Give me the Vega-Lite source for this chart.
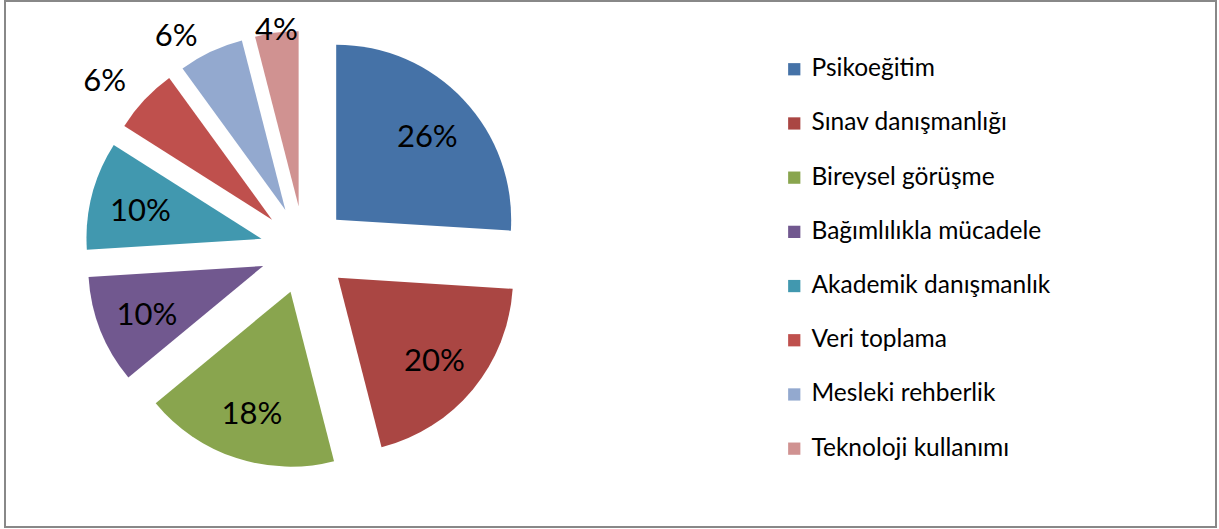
{
  "$schema": "https://vega.github.io/schema/vega-lite/v6.json",
  "autosize": {"type": "fit", "contains": "padding"},
  "width": 1219,
  "height": 529,
  "padding": {"left": 5, "top": 1, "right": 3, "bottom": 2},
  "background": "white",
  "config": {"view": {"stroke": "#888888", "strokeWidth": 2}, "font": "Lato"},
  "data": {"values": [
    {"i": 1, "k": "Psikoeğitim", "v": 0.26},
    {"i": 2, "k": "Sınav danışmanlığı", "v": 0.20},
    {"i": 3, "k": "Bireysel görüşme", "v": 0.18},
    {"i": 4, "k": "Bağımlılıkla mücadele", "v": 0.10},
    {"i": 5, "k": "Akademik danışmanlık", "v": 0.10},
    {"i": 6, "k": "Veri toplama", "v": 0.06},
    {"i": 7, "k": "Mesleki rehberlik", "v": 0.06},
    {"i": 8, "k": "Teknoloji kullanımı", "v": 0.04}
  ]},
  "encoding": {
    "theta": {"field": "v", "type": "quantitative", "stack": true},
    "order": {"field": "i", "type": "quantitative"},
    "x": {"value": {"expr": "width*0.247 + 44*sin(scale('theta',(datum.v_start+datum.v_end)/2))"}},
    "y": {"value": {"expr": "height*0.473 - 44*cos(scale('theta',(datum.v_start+datum.v_end)/2))"}}
  },
  "layer": [
    {
      "mark": {"type": "arc", "radius": 175},
      "encoding": {
        "color": {
          "field": "k", "type": "nominal", "sort": null,
          "scale": {
            "domain": ["Psikoeğitim", "Sınav danışmanlığı", "Bireysel görüşme", "Bağımlılıkla mücadele", "Akademik danışmanlık", "Veri toplama", "Mesleki rehberlik", "Teknoloji kullanımı"],
            "range": ["#4572A7", "#AA4643", "#89A54E", "#71588F", "#4198AF", "#BF504D", "#93A9CF", "#D09291"]
          },
          "legend": {
            "orient": "none", "legendX": 777, "legendY": 56, "title": null,
            "symbolType": "square", "symbolSize": 150, "symbolStrokeWidth": 0,
            "labelFontSize": 24.5, "labelOffset": 5, "rowPadding": 29.2,
            "labelColor": "#000000", "labelFont": "Lato", "labelLimit": 400
          }
        }
      }
    },
    {
      "mark": {"type": "text", "fontSize": 31, "font": "Lato", "color": "#000000",
        "radius": {"expr": "datum.v >= 0.1 ? 125 : (datum.i == 8 ? 177 : (datum.i == 7 ? 200 : 216))"},
        "dx": {"expr": "datum.i == 7 ? -24 : (datum.i == 6 ? -10 : 0)"},
        "dy": {"expr": "datum.i == 7 ? 8 : (datum.i == 6 ? 10 : (datum.i == 8 ? 0 : 4))"}},
      "encoding": {
        "text": {"field": "v", "type": "quantitative", "format": ".0%"}
      }
    }
  ]
}
